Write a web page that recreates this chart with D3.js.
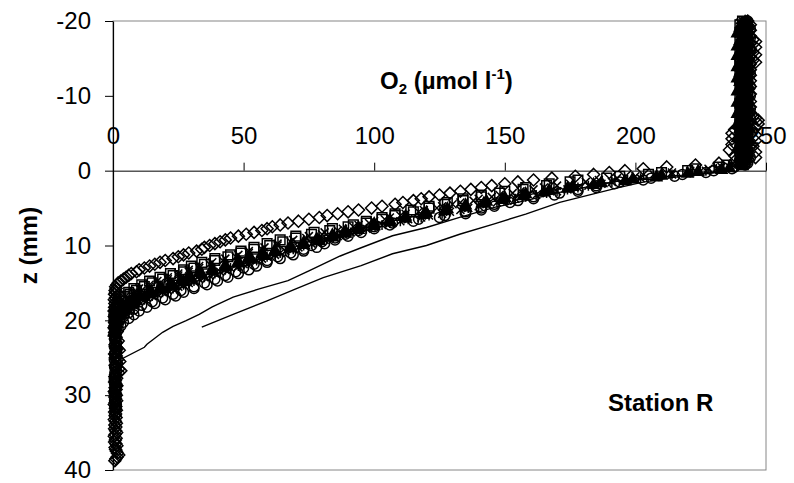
<!DOCTYPE html>
<html>
<head>
<meta charset="utf-8">
<script src="https://cdn.jsdelivr.net/npm/d3@7/dist/d3.min.js"></script>
<style>
  body { margin: 0; background: #fff; }
  svg text { font-family: "Liberation Sans", Arial, sans-serif; fill: #000; }
</style>
</head>
<body>
<svg id="chart" width="794" height="483"></svg>
<script>
// Microprofiles are sampled on a regular depth grid (mm), starting at the top of the water column
const depthStart = -20;
const depthStep = 0.25;

// O2 (µmol l-1), profile 1 (open diamonds), from -20 mm down to 38.75 mm
const o2Diamond = [
  243,242,244,243,242,244,243,242,244,243,
  245,246,244,243,246,244,243,245,246,244,
  243,245,246,244,243,242,244,243,242,244,
  243,242,244,243,242,244,243,241,243,244,
  242,243,241,244,243,242,244,243,242,244,
  243,245,246,247,244,247,242,246,238,243,
  237,246,241,237,246,243,237,245,242,236,
  246,241,238,246,243,238,
  232,223,212,203,196,190,184,177,168,161,
  155,150,145,141,137,133,129,125,121,118,
  115,111,108,103,99,94,90,86,82,79,
  75,71,67,64,61,59,57,54,51,48,
  45,43,41,39,37,35,34,32,29,27,
  25,23,20,18,16,14,12,10,9,7,
  6,5,4,3,2,1.5,1,
  1.2,0.8,1,0.6,1.4,0.9,0.5,1.1,0.7,1.3,
  0.6,1,0.4,1.2,0.8,0.5,1.5,0.9,0.6,1.1,
  0.7,0.4,1,1.6,0.8,0.5,1.2,0.9,2,1.4,
  0.8,1,1.7,2.4,1.1,0.6,1.3,0.9,1.8,2.6,
  1.5,0.8,1.2,2.2,3,2.1,1,0.7,1.4,0.9,
  0.6,1.1,1.5,0.8,1.2,0.5,0.9,1.3,0.7,1,
  1.4,0.8,0.5,1.1,0.9,1.3,0.6,1,0.8,1.2,
  0.5,0.9,1.3,0.7,1.1,0.6,1,1.4,0.8,0.5,
  1.2,0.9,0.6,1.1,1.5,0.8,1,1.3,1.7,2.2,
  1.6,1.1,0.7
];

// profile 2 (open squares), -20 mm to 20 mm
const o2Square = [
  241,242,240,243,241,242,240,241,243,242,
  241,240,242,243,241,242,240,243,241,242,
  240,242,241,243,240,241,242,240,243,241,
  242,240,241,243,242,240,241,242,243,241,
  240,242,241,243,240,242,241,240,243,242,
  241,240,242,241,243,240,242,241,240,243,
  241,242,240,241,243,242,240,241,242,240,
  243,241,242,240,241,242,
  240,235,232,223,220,210,205,194,189,178,
  175,167,166,158,157,150,148,141,141,134,
  134,128,127,121,121,114,115,108,108,103,
  103,97,97,92,90,84,83,77,76,70,
  70,64,65,59,60,54,54,49,49,45,
  44,39,39,34,35,30,31,27,27,22,
  23,18,19,14,15,11,12,8,9,6,
  6.5,4.5,4.5,3,3.5,2,2.5,1.2,1.5,0.6,
  1.3,0.5,1,0.4,0.8
];

// profile 3 (crosses), -20 mm to 20.5 mm
const o2Cross = [
  242,240,243,241,242,240,242,243,241,240,
  243,242,240,241,243,241,242,240,242,243,
  241,240,243,242,241,243,240,242,241,240,
  242,243,241,240,242,241,243,240,241,242,
  243,241,240,242,243,240,241,243,242,240,
  242,241,243,240,242,243,241,240,242,241,
  240,243,242,241,240,242,243,241,240,242,
  241,243,240,242,241,243,
  241,238,233,228,221,214,207,200,193,186,
  181,175,170,165,161,156,153,148,145,140,
  138,133,130,126,124,119,117,112,110,106,
  104,100,98,94,92,88,86,81,80,75,
  74,69,68,63,63,58,57,52,52,48,
  47,43,42,38,37,33,33,29,29,25,
  25,21,21,17,18,14,14,10,11,8,
  8,5,6,3.5,4,2.5,3,1.5,2,1,
  1.2,0.6,0.9,0.5,0.8,0.4,0.7
];

// profile 4 (filled triangles), -20 mm to 21.5 mm
const o2Triangle = [
  242,241,243,240,242,241,239,242,243,241,
  240,242,241,239,243,242,240,241,239,242,
  243,241,240,242,239,241,243,240,242,241,
  239,242,240,243,241,242,240,239,241,243,
  242,240,241,239,242,243,241,240,242,239,
  241,243,240,242,241,239,242,240,243,241,
  242,240,239,241,243,242,240,241,239,242,
  241,243,240,242,241,240,241,
  241,236,233,224,220,210,208,199,196,187,
  184,176,174,167,165,158,157,150,149,143,
  142,135,135,128,127,120,119,112,112,106,
  106,100,100,94,94,89,89,84,84,78,
  79,73,73,68,68,62,62,57,58,52,
  53,48,48,43,43,38,38,33,34,29,
  30,26,27,22,23,18,19,14,15,10,
  12,8,9,6,7,4,5,3,3.5,2,
  2.5,1.2,1.5,0.8,1.2,0.6,1,0.5,0.9,0.4
];

// profile 5 (stars), -20 mm to 22 mm
const o2Star = [
  241,243,242,240,243,241,242,243,240,242,
  243,241,240,242,241,243,242,240,241,243,
  242,240,242,243,241,240,243,241,242,240,
  241,243,242,240,241,243,240,242,243,241,
  240,242,243,241,240,242,241,243,240,242,
  243,240,241,242,243,241,240,242,241,243,
  242,241,243,240,242,241,243,242,240,241,
  243,242,240,241,243,241,
  242,240,236,231,227,221,214,209,202,197,
  191,187,182,178,174,170,166,162,158,154,
  151,147,143,140,136,133,129,126,121,118,
  113,110,106,103,99,97,93,91,88,86,
  83,81,78,76,73,71,69,66,64,62,
  59,57,55,52,50,48,45,43,41,39,
  37,35,33,31,29,27,25,23,21,19,
  17,15,13,12,10,9,8,7,6,5,
  4,3.5,3,2.5,2,1.5,1.2,1,0.8,1.1,
  0.6,0.9,0.5
];

// profile 6 (open circles), -20 mm to 32 mm
const o2Circle = [
  243,242,241,243,244,242,241,243,242,244,
  241,243,242,240,243,242,244,241,243,242,
  240,243,241,244,242,243,241,242,244,243,
  241,242,243,240,242,244,243,241,242,243,
  244,242,241,243,242,240,243,244,242,241,
  243,242,244,241,243,242,240,243,241,242,
  244,243,241,242,240,243,242,244,241,243,
  242,241,243,244,242,241,243,
  242,238,237,230,227,218,215,206,203,194,
  192,185,185,178,178,171,169,161,161,155,
  152,146,146,141,141,135,135,127,125,117,
  115,107,106,100,100,94,95,89,90,85,
  85,80,81,76,78,73,73,68,69,63,
  64,59,59,54,55,50,52,47,48,43,
  44,39,40,35,36,31,31,26,27,23,
  24,19,20,15,16,11,13,8,10,6,
  8,4,6,2.5,4,2,3,1.2,2,0.8,
  1.2,0.6,
  1.1,0.6,0.9,1.3,0.7,0.5,1,1.4,0.8,0.6,
  1.2,0.9,0.5,1.1,1.5,0.8,0.6,1,1.3,0.7,
  0.9,1.2,0.5,0.8,1.1,0.6,1.4,0.9,0.7,1,
  0.5,1.2,0.8,1.1,0.6,0.9,1.3,0.7,1,0.8
];

// two profiles drawn as plain lines
const line1Depth = [0,0.5,1,1.34,2,2.9,4,4.9,6.2,7.6,8.7,10.3,11.4,12.4,13.4,14.7,15.8,16.9,18.2,19.2,20.05,20.8,21.6,22.4,23.2,23.6,25.4,26.5,28];
const line1O2    = [238,222,204,194,184,171,158,146,133,120,107,95,87,81,75,67,56,46,38,33,28,23,19,16,13,12,2,1,0.5];
const line2Depth = [0,0.5,1,1.6,2.23,3.1,4.24,5.8,7.1,8.46,10,11.1,12.7,14.3,15.8,17.4,19.2,20.9];
const line2O2    = [238,225,212,202,194,184,171,158,146,133,120,107,95,80.5,70,59,46,34];

const o2Ticks = [0, 50, 100, 150, 200, 250];
const depthTicks = [-20, -10, 0, 10, 20, 30, 40];

const svg = d3.select("#chart");
const x = d3.scaleLinear().domain([0, 250]).range([113, 766]);
const y = d3.scaleLinear().domain([-20, 40]).range([21, 470]);

// plot frame
svg.append("rect")
  .attr("x", x(0)).attr("y", y(-20))
  .attr("width", x(250) - x(0)).attr("height", y(40) - y(-20))
  .attr("fill", "none").attr("stroke", "#868686").attr("stroke-width", 1);

// depth axis on the left
const yAxis = svg.append("g")
  .attr("transform", `translate(${x(0)},0)`)
  .call(d3.axisLeft(y).tickValues(depthTicks).tickSize(8).tickSizeOuter(0).tickPadding(14).tickFormat(d => String(d)));
yAxis.select(".domain").attr("stroke", "#000").attr("stroke-width", 1.2);
yAxis.selectAll(".tick line").attr("stroke", "#000");
yAxis.selectAll("text").style("font-size", "24px").attr("fill", "#000");

// O2 axis along the sediment surface (z = 0), labelled above
const xAxis = svg.append("g")
  .attr("transform", `translate(0,${y(0)})`)
  .call(d3.axisTop(x).tickValues(o2Ticks).tickSize(8).tickSizeOuter(0).tickPadding(19));
xAxis.select(".domain").attr("stroke", "#000");
xAxis.selectAll(".tick line").attr("stroke", "#000");
xAxis.selectAll("text").style("font-size", "24px").attr("fill", "#000");

// axis titles
const xt = svg.append("text").attr("x", 380).attr("y", 89)
  .style("font-size", "24px").style("font-weight", "bold");
xt.append("tspan").text("O");
xt.append("tspan").attr("dy", 5).style("font-size", "15px").text("2");
xt.append("tspan").attr("dy", -5).text(" (µmol l");
xt.append("tspan").attr("dy", -10).style("font-size", "15px").text("-1");
xt.append("tspan").attr("dy", 10).text(")");

svg.append("text")
  .attr("transform", `translate(37,${(y(-20) + y(40)) / 2}) rotate(-90)`)
  .attr("text-anchor", "middle")
  .style("font-size", "24px").style("font-weight", "bold")
  .text("z (mm)");

svg.append("text").attr("x", 608).attr("y", 411)
  .style("font-size", "24px").style("font-weight", "bold")
  .text("Station R");

// line profiles
const lineGen = d3.line().x(d => x(d[1])).y(d => y(d[0]));
[[line1Depth, line1O2], [line2Depth, line2O2]].forEach(([dz, o2]) => {
  svg.append("path")
    .datum(dz.map((z, i) => [z, o2[i]]))
    .attr("d", lineGen)
    .attr("fill", "none").attr("stroke", "#000").attr("stroke-width", 1.4);
});

// marker profiles (open markers are outlines only)
const toPoints = vals => vals.map((v, i) => ({ z: depthStart + i * depthStep, o2: v }));
const markerShapes = {
  diamond: "M0,-6L6,0L0,6L-6,0Z",
  square: "M-4.8,-4.8H4.8V4.8H-4.8Z",
  cross: "M-4,-4L4,4M-4,4L4,-4",
  triangle: "M0,-5.5L5.5,4.5L-5.5,4.5Z",
  star: "M-4,-4L4,4M-4,4L4,-4M0,-5V5",
  circle: "M5,0A5,5 0 1 1 -5,0A5,5 0 1 1 5,0Z"
};
const profiles = [
  { vals: o2Diamond, shape: "diamond", fill: "none" },
  { vals: o2Square, shape: "square", fill: "none" },
  { vals: o2Cross, shape: "cross", fill: "none" },
  { vals: o2Triangle, shape: "triangle", fill: "#000" },
  { vals: o2Star, shape: "star", fill: "none" },
  { vals: o2Circle, shape: "circle", fill: "none" }
];
profiles.forEach(p => {
  svg.append("g").selectAll("path")
    .data(toPoints(p.vals))
    .join("path")
    .attr("transform", d => `translate(${x(d.o2)},${y(d.z)})`)
    .attr("d", markerShapes[p.shape])
    .attr("fill", p.fill)
    .attr("stroke", "#000")
    .attr("stroke-width", 1.5);
});
</script>
</body>
</html>
